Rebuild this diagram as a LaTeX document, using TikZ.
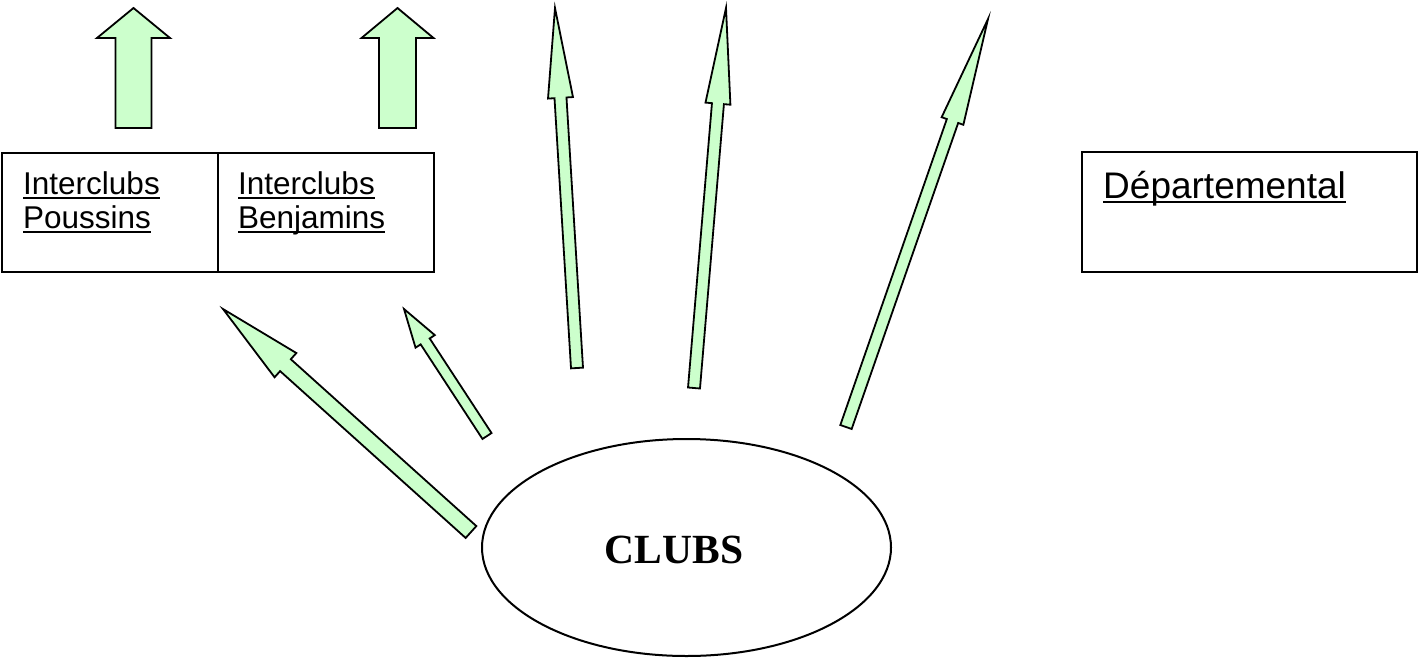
\documentclass[tikz,border=0pt]{standalone}
\usepackage{fontspec}
\setmainfont{Liberation Sans}
\newfontfamily\clubsfont{Liberation Serif}
\newcommand\myul[1]{\setbox0\hbox{#1}\rlap{\rule[-4.8pt]{\wd0}{2.2pt}}\box0}
\usetikzlibrary{calc,shapes.geometric}
\definecolor{arrgreen}{HTML}{CCFFCC}
\tikzset{
  arr/.style={draw=black, fill=arrgreen, line width=1.8pt, line join=miter},
  cell/.style={draw=black, line width=2pt, inner sep=0pt, outer sep=0pt},
  lbl/.style={anchor=base west, inner sep=0pt, font=\fontsize{31.5}{36}\selectfont},
  dlbl/.style={anchor=base west, inner sep=0pt, font=\fontsize{37}{42}\selectfont},
}
% name, base, tip, shaft half width, head half width, head length
\newcommand\blockarr[6]{%
  \coordinate (#1h) at ($(#3)!#6!(#2)$);
  \draw[arr] ($(#2)!#4!-90:(#3)$) -- ($(#1h)!#4!-90:(#3)$) -- ($(#1h)!#5!-90:(#3)$)
    -- (#3) -- ($(#1h)!#5!90:(#3)$) -- ($(#1h)!#4!90:(#3)$) -- ($(#2)!#4!90:(#3)$) -- cycle;}
\begin{document}
\begin{tikzpicture}[x=1pt,y=-1pt]
\useasboundingbox (0,0) rectangle (1418,659);
% boxes
\node[cell, minimum width=216pt, minimum height=119pt] (poussins) at (110,212.5) {};
\node[cell, minimum width=216pt, minimum height=119pt] (benjamins) at (326,212.5) {};
\node[cell, minimum width=335pt, minimum height=120pt] (dep) at (1249.5,212) {};
\node[lbl] (t1) at (23,194.5) {\myul{Interclubs}};
\node[lbl] (t2) at (23,228) {\myul{Poussins}};
\node[lbl] (t3) at (238,194.5) {\myul{Interclubs}};
\node[lbl] (t4) at (238,228) {\myul{Benjamins}};
\node[dlbl] (t5) at (1103,198) {\myul{Départemental}};
% ellipse
\node[ellipse, draw=black, line width=2pt, minimum width=409pt, minimum height=217pt, inner sep=0pt] (clubs) at (686.5,547.5) {};
\node[anchor=base, inner sep=0pt, font=\clubsfont\bfseries\fontsize{41.5}{46}\selectfont] (clubstxt) at (674,563) {CLUBS};
% arrow coordinates
\coordinate (b1) at (133.5,128); \coordinate (e1) at (133.5,8);
\coordinate (b2) at (397.5,128); \coordinate (e2) at (397.5,8);
\coordinate (b3) at (577,368);   \coordinate (e3) at (555,8);
\coordinate (b4) at (694,388);   \coordinate (e4) at (726,8);
\coordinate (b5) at (846,427);   \coordinate (e5) at (988,19);
\coordinate (b6) at (471,532);   \coordinate (e6) at (223,309);
\coordinate (b7) at (487,436);   \coordinate (e7) at (404,309);
\blockarr{a1}{b1}{e1}{18pt}{36.5pt}{30pt}
\blockarr{a2}{b2}{e2}{18.5pt}{36pt}{30pt}
\blockarr{a3}{b3}{e3}{6pt}{12.5pt}{90pt}
\blockarr{a4}{b4}{e4}{6pt}{12.5pt}{96pt}
\blockarr{a5}{b5}{e5}{6pt}{11.5pt}{108pt}
\blockarr{a6}{b6}{e6}{8pt}{16.3pt}{84pt}
\blockarr{a7}{b7}{e7}{5.4pt}{11.5pt}{38.7pt}
\end{tikzpicture}
\end{document}
